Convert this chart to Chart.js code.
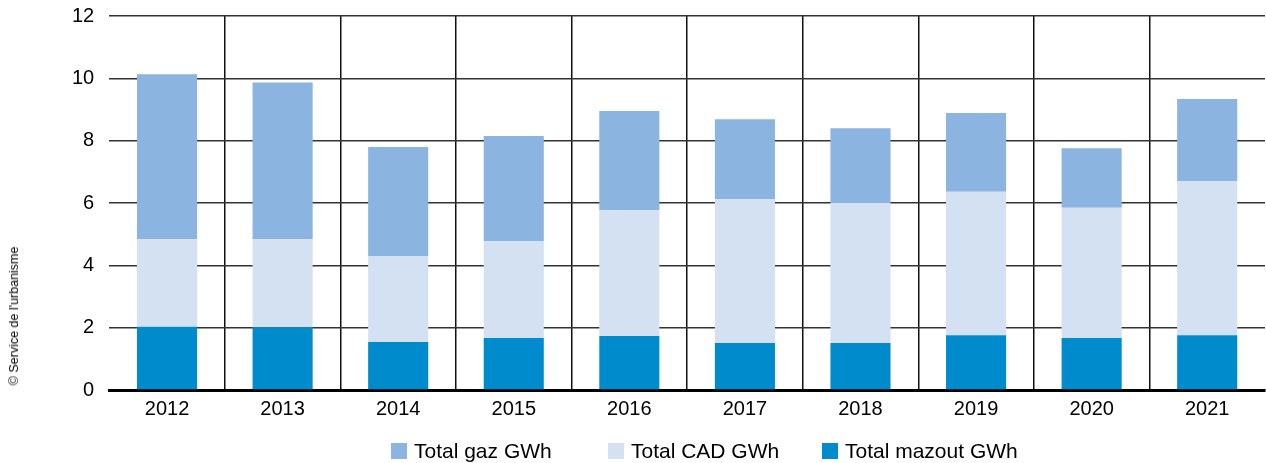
<!DOCTYPE html>
<html lang="fr">
<head>
    <meta charset="UTF-8">
    <title>Consommation d'énergie</title>
    <script src="https://cdn.jsdelivr.net/npm/chart.js"></script>
    <style>
        html, body { margin: 0; padding: 0; background: #fff; }
        .wrap { position: relative; width: 1266px; height: 463px; }
        .credit {
            position: absolute; left: 14px; top: 316px;
            transform: translate(-50%, -50%) rotate(-90deg);
            font: 12.5px "Liberation Sans", Arial, sans-serif; color: #000; white-space: nowrap;
        }
        #legend { position: absolute; left: 391px; top: 439px; display: flex; font: 21px "Liberation Sans", Arial, sans-serif; }
        #legend .item { display: flex; align-items: center; }
        #legend .box { width: 16px; height: 16px; margin-right: 7px; }
    </style>
</head>
<body>
    <div class="wrap">
        <canvas id="chart" width="1266" height="463"></canvas>
        <div class="credit">© Service de l'urbanisme</div>
        <div id="legend"></div>
    </div>

    <script>
        const years = ['2012', '2013', '2014', '2015', '2016', '2017', '2018', '2019', '2020', '2021'];
        const mazout = [2.03, 2.01, 1.54, 1.67, 1.73, 1.51, 1.51, 1.76, 1.67, 1.76];
        const cad = [2.81, 2.83, 2.76, 3.11, 4.04, 4.62, 4.49, 4.60, 4.18, 4.94];
        const gaz = [5.29, 5.03, 3.50, 3.37, 3.18, 2.56, 2.40, 2.53, 1.91, 2.64];
        const yTicks = [0, 2, 4, 6, 8, 10, 12];

        const font = { family: '"Liberation Sans", Arial, sans-serif', size: 20 };

        const ctx = document.getElementById('chart').getContext('2d');
        const chart = new Chart(ctx, {
            type: 'bar',
            data: {
                labels: years,
                datasets: [
                    { label: 'Total mazout GWh', data: mazout, backgroundColor: '#008ccc' },
                    { label: 'Total CAD GWh', data: cad, backgroundColor: '#d3e1f3' },
                    { label: 'Total gaz GWh', data: gaz, backgroundColor: '#8bb4e0' }
                ]
            },
            options: {
                responsive: false,
                animation: false,
                layout: { padding: { left: 57, right: 1, top: 16, bottom: 35 } },
                datasets: { bar: { barPercentage: 0.52, categoryPercentage: 1 } },
                plugins: { legend: { display: false }, tooltip: { enabled: false } },
                scales: {
                    x: {
                        stacked: true,
                        grid: {
                            offset: true,
                            drawTicks: false,
                            lineWidth: 1.5,
                            color: (c) => c.index > 0 ? '#111' : 'rgba(0,0,0,0)'
                        },
                        border: { display: true, color: '#000', width: 3 },
                        ticks: { color: '#000', font: font, padding: 7 }
                    },
                    y: {
                        stacked: true,
                        min: 0,
                        max: 12,
                        afterBuildTicks: (s) => { s.ticks = yTicks.map(v => ({ value: v })); },
                        afterFit: (s) => { s.paddingTop = 0; },
                        grid: { drawTicks: false, lineWidth: 1.5, color: '#333' },
                        border: { display: false },
                        ticks: { color: '#000', font: font, padding: 15 }
                    }
                }
            }
        });

        // legend in the same order as the original (top segment first)
        const legend = document.getElementById('legend');
        const widths = [217, 214, 200];
        chart.data.datasets.slice().reverse().forEach((ds, i) => {
            const item = document.createElement('div');
            item.className = 'item';
            item.style.width = widths[i] + 'px';
            item.innerHTML = '<span class="box" style="background:' + ds.backgroundColor + '"></span><span>' + ds.label + '</span>';
            legend.appendChild(item);
        });
    </script>
</body>
</html>
